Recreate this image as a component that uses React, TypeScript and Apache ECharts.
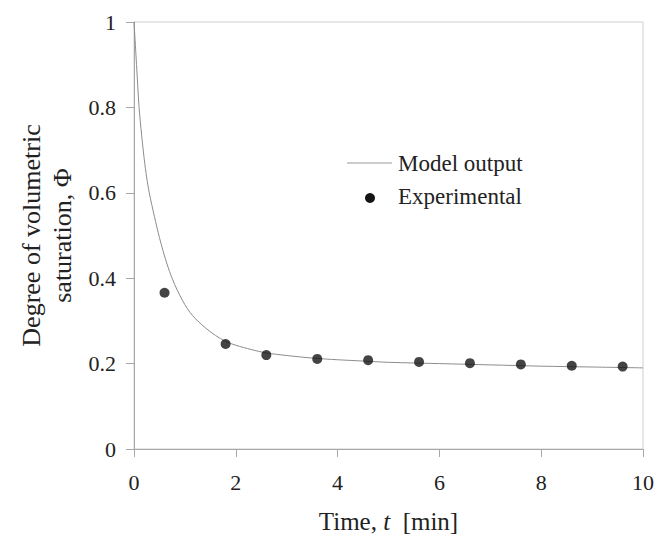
import React, { useEffect, useRef } from "react";
import * as echarts from "echarts";

const modelT = [0, 0.05, 0.1, 0.15, 0.2, 0.25, 0.3, 0.4, 0.5, 0.6, 0.7, 0.8, 0.9, 1.0, 1.1, 1.2, 1.4, 1.6, 1.8, 2.0, 2.3, 2.6, 3.0, 3.5, 4.0, 4.5, 5.0, 6.0, 7.0, 8.0, 9.0, 10];
const modelPhi = [1.0, 0.9, 0.8, 0.735, 0.68, 0.635, 0.6, 0.545, 0.495, 0.452, 0.415, 0.385, 0.36, 0.338, 0.32, 0.306, 0.284, 0.266, 0.252, 0.243, 0.233, 0.225, 0.219, 0.213, 0.209, 0.206, 0.203, 0.2, 0.197, 0.194, 0.192, 0.19];

const expT = [0.6, 1.8, 2.6, 3.6, 4.6, 5.6, 6.6, 7.6, 8.6, 9.6];
const expPhi = [0.366, 0.246, 0.22, 0.211, 0.208, 0.204, 0.201, 0.198, 0.195, 0.193];

const xTicks = [0, 10, 2];
const yTicks = [0, 1, 0.2];

const legendNames = ["Model output", "Experimental"];

const FONT = "'Liberation Serif', 'Times New Roman', serif";

export default function App() {
  const ref = useRef<HTMLDivElement>(null);
  useEffect(() => {
    if (!ref.current) return;
    const chart = echarts.init(ref.current, undefined, { renderer: "svg" });
    chart.setOption({
      animation: false,
      backgroundColor: "#ffffff",
      textStyle: { fontFamily: FONT, color: "#222" },
      grid: {
        left: 134,
        right: 13,
        top: 22,
        bottom: 90,
        show: true,
        borderColor: "#cfcfcf",
        borderWidth: 1,
      },
      graphic: [
        {
          type: "line",
          shape: { x1: 347, y1: 163, x2: 392, y2: 163 },
          style: { stroke: "#999", lineWidth: 1 },
        },
        {
          type: "text",
          x: 398,
          y: 163,
          style: {
            text: legendNames[0],
            fontFamily: FONT,
            fontSize: 23,
            fill: "#222",
            verticalAlign: "middle",
            align: "left",
          },
        },
        {
          type: "circle",
          shape: { cx: 370, cy: 198, r: 5 },
          style: { fill: "#151515" },
        },
        {
          type: "text",
          x: 398,
          y: 196,
          style: {
            text: legendNames[1],
            fontFamily: FONT,
            fontSize: 23,
            fill: "#222",
            verticalAlign: "middle",
            align: "left",
          },
        },
      ],
      xAxis: {
        type: "value",
        min: xTicks[0],
        max: xTicks[1],
        interval: xTicks[2],
        name: "{a|Time, }{b|t}{a|  [min]}",
        nameLocation: "middle",
        nameGap: 60,
        nameTextStyle: {
          rich: {
            a: { fontFamily: FONT, fontSize: 25, color: "#222" },
            b: { fontFamily: FONT, fontSize: 25, fontStyle: "italic", color: "#222" },
          },
        },
        axisLine: { show: true, lineStyle: { color: "#a8a8a8", width: 1 } },
        axisTick: { show: true, inside: false, length: 8, lineStyle: { color: "#a8a8a8" } },
        axisLabel: { fontFamily: FONT, fontSize: 22, color: "#222", margin: 22 },
        splitLine: { show: false },
      },
      yAxis: {
        type: "value",
        min: yTicks[0],
        max: yTicks[1],
        interval: yTicks[2],
        name: "Degree of volumetric\nsaturation, Φ",
        nameLocation: "middle",
        nameRotate: 90,
        nameGap: 56,
        nameTextStyle: { fontFamily: FONT, fontSize: 26, color: "#222", lineHeight: 31 },
        axisLine: { show: true, lineStyle: { color: "#a8a8a8", width: 1 } },
        axisTick: { show: true, inside: false, length: 8, lineStyle: { color: "#a8a8a8" } },
        axisLabel: { fontFamily: FONT, fontSize: 22, color: "#222", margin: 18 },
        splitLine: { show: false },
      },
      series: [
        {
          name: legendNames[0],
          type: "line",
          data: modelT.map((t, i) => [t, modelPhi[i]]),
          showSymbol: false,
          symbol: "none",
          smooth: 0.3,
          lineStyle: { color: "#8c8c8c", width: 1 },
          itemStyle: { color: "#8c8c8c" },
          z: 2,
        },
        {
          name: legendNames[1],
          type: "scatter",
          data: expT.map((t, i) => [t, expPhi[i]]),
          symbol: "circle",
          symbolSize: 10,
          itemStyle: { color: "#151515" },
          z: 3,
        },
      ],
    });
    return () => chart.dispose();
  }, []);
  return (
    <div
      ref={ref}
      style={{ position: "fixed", left: 0, top: 0, width: 657, height: 539, background: "#fff" }}
    />
  );
}
